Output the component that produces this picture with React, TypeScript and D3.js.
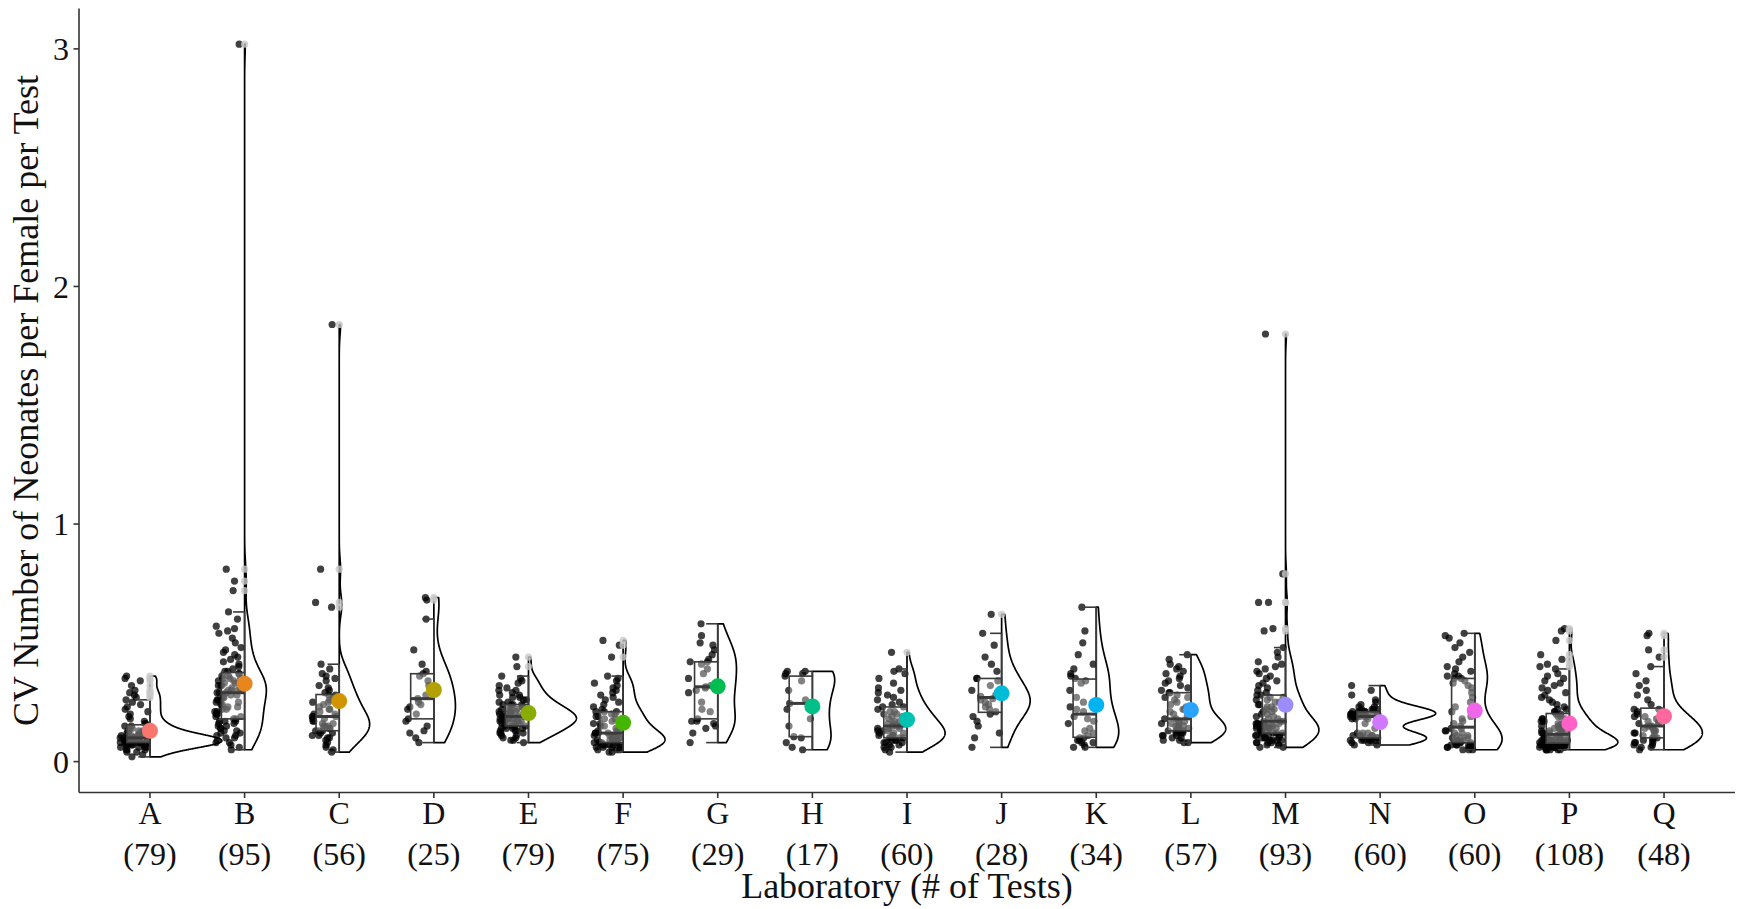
import React from "react";
import * as d3 from "d3";

// Laboratory identifiers and number of tests per laboratory
const labs = ["A", "B", "C", "D", "E", "F", "G", "H", "I", "J", "K", "L", "M", "N", "O", "P", "Q"];
const testCounts = [79, 95, 56, 25, 79, 75, 29, 17, 60, 28, 34, 57, 93, 60, 60, 108, 48];
const yTicks = [0, 1, 2, 3];

// CV of number of neonates per female, one value per test
const labA = [
  0.02, 0.03, 0.04, 0.04, 0.05, 0.05, 0.05, 0.06, 0.06, 0.06,
  0.06, 0.07, 0.07, 0.07, 0.07, 0.07, 0.07, 0.08, 0.08, 0.08,
  0.08, 0.08, 0.08, 0.08, 0.08, 0.08, 0.09, 0.09, 0.09, 0.09,
  0.09, 0.09, 0.09, 0.09, 0.09, 0.09, 0.10, 0.10, 0.10, 0.10,
  0.10, 0.10, 0.10, 0.10, 0.11, 0.11, 0.11, 0.11, 0.12, 0.12,
  0.12, 0.12, 0.13, 0.13, 0.13, 0.14, 0.14, 0.15, 0.15, 0.16,
  0.16, 0.17, 0.18, 0.19, 0.20, 0.21, 0.22, 0.23, 0.24, 0.25,
  0.26, 0.27, 0.28, 0.29, 0.30, 0.32, 0.34, 0.35, 0.36,
];
const labB = [
  0.05, 0.06, 0.07, 0.08, 0.08, 0.09, 0.10, 0.10, 0.11, 0.11,
  0.12, 0.12, 0.13, 0.13, 0.14, 0.14, 0.15, 0.15, 0.16, 0.16,
  0.17, 0.17, 0.17, 0.18, 0.18, 0.19, 0.19, 0.20, 0.20, 0.21,
  0.21, 0.22, 0.22, 0.23, 0.23, 0.24, 0.24, 0.25, 0.25, 0.26,
  0.26, 0.26, 0.27, 0.27, 0.28, 0.28, 0.29, 0.29, 0.29, 0.30,
  0.30, 0.30, 0.31, 0.31, 0.31, 0.32, 0.32, 0.32, 0.33, 0.33,
  0.33, 0.34, 0.34, 0.34, 0.35, 0.35, 0.35, 0.36, 0.36, 0.37,
  0.37, 0.38, 0.38, 0.39, 0.40, 0.41, 0.42, 0.43, 0.44, 0.45,
  0.46, 0.47, 0.48, 0.50, 0.52, 0.54, 0.55, 0.56, 0.57, 0.60,
  0.63, 0.72, 0.76, 0.81, 3.02,
];
const labC = [
  0.04, 0.05, 0.06, 0.07, 0.08, 0.09, 0.10, 0.10, 0.11, 0.11,
  0.12, 0.12, 0.13, 0.13, 0.13, 0.14, 0.14, 0.15, 0.15, 0.15,
  0.16, 0.16, 0.17, 0.17, 0.18, 0.18, 0.19, 0.19, 0.19, 0.20,
  0.20, 0.21, 0.22, 0.22, 0.23, 0.24, 0.25, 0.25, 0.26, 0.27,
  0.28, 0.28, 0.29, 0.30, 0.31, 0.32, 0.34, 0.35, 0.36, 0.37,
  0.39, 0.41, 0.65, 0.67, 0.81, 1.84,
];
const labD = [
  0.08, 0.10, 0.12, 0.13, 0.15, 0.17, 0.18, 0.20, 0.22, 0.23,
  0.24, 0.25, 0.265, 0.28, 0.30, 0.32, 0.34, 0.36, 0.37, 0.38,
  0.41, 0.47, 0.60, 0.68, 0.69,
];
const labE = [
  0.08, 0.09, 0.09, 0.10, 0.10, 0.11, 0.11, 0.12, 0.12, 0.12,
  0.13, 0.13, 0.13, 0.14, 0.14, 0.14, 0.14, 0.15, 0.15, 0.15,
  0.15, 0.16, 0.16, 0.16, 0.16, 0.17, 0.17, 0.17, 0.17, 0.17,
  0.18, 0.18, 0.18, 0.18, 0.18, 0.19, 0.19, 0.19, 0.19, 0.19,
  0.19, 0.20, 0.20, 0.20, 0.20, 0.21, 0.21, 0.21, 0.21, 0.22,
  0.22, 0.22, 0.22, 0.23, 0.23, 0.23, 0.24, 0.24, 0.24, 0.24,
  0.25, 0.25, 0.26, 0.26, 0.27, 0.27, 0.28, 0.28, 0.29, 0.30,
  0.30, 0.31, 0.32, 0.33, 0.34, 0.35, 0.36, 0.40, 0.44,
];
const labF = [
  0.04, 0.04, 0.05, 0.05, 0.05, 0.06, 0.06, 0.06, 0.06, 0.07,
  0.07, 0.07, 0.07, 0.07, 0.08, 0.08, 0.08, 0.08, 0.08, 0.08,
  0.09, 0.09, 0.09, 0.09, 0.09, 0.10, 0.10, 0.10, 0.10, 0.11,
  0.11, 0.11, 0.11, 0.11, 0.12, 0.12, 0.12, 0.12, 0.13, 0.13,
  0.14, 0.14, 0.15, 0.15, 0.16, 0.16, 0.17, 0.17, 0.18, 0.18,
  0.19, 0.19, 0.20, 0.20, 0.21, 0.21, 0.21, 0.22, 0.23, 0.24,
  0.25, 0.26, 0.27, 0.28, 0.29, 0.30, 0.31, 0.32, 0.33, 0.34,
  0.35, 0.36, 0.44, 0.49, 0.51,
];
const labG = [
  0.08, 0.12, 0.14, 0.15, 0.16, 0.17, 0.17, 0.18, 0.21, 0.22,
  0.25, 0.29, 0.30, 0.31, 0.315, 0.32, 0.35, 0.37, 0.39, 0.41,
  0.42, 0.42, 0.43, 0.45, 0.47, 0.49, 0.50, 0.53, 0.58,
];
const labH = [
  0.05, 0.06, 0.08, 0.10, 0.105, 0.15, 0.18, 0.22, 0.245, 0.26,
  0.30, 0.34, 0.36, 0.37, 0.37, 0.38, 0.38,
];
const labI = [
  0.04, 0.05, 0.06, 0.06, 0.07, 0.07, 0.08, 0.08, 0.08, 0.09,
  0.09, 0.09, 0.10, 0.10, 0.10, 0.10, 0.11, 0.11, 0.11, 0.12,
  0.12, 0.12, 0.13, 0.13, 0.13, 0.14, 0.14, 0.14, 0.15, 0.15,
  0.15, 0.16, 0.16, 0.17, 0.17, 0.18, 0.18, 0.19, 0.19, 0.20,
  0.20, 0.21, 0.21, 0.22, 0.23, 0.23, 0.24, 0.25, 0.26, 0.27,
  0.28, 0.29, 0.30, 0.31, 0.33, 0.35, 0.37, 0.38, 0.39, 0.46,
];
const labJ = [
  0.06, 0.10, 0.12, 0.15, 0.17, 0.19, 0.20, 0.21, 0.22, 0.23,
  0.24, 0.25, 0.26, 0.265, 0.275, 0.28, 0.29, 0.30, 0.32, 0.34,
  0.35, 0.35, 0.38, 0.41, 0.44, 0.49, 0.54, 0.62,
];
const labK = [
  0.06, 0.06, 0.07, 0.08, 0.08, 0.09, 0.09, 0.10, 0.10, 0.11,
  0.12, 0.13, 0.14, 0.16, 0.17, 0.18, 0.19, 0.21, 0.22, 0.23,
  0.25, 0.27, 0.30, 0.33, 0.34, 0.35, 0.36, 0.37, 0.39, 0.41,
  0.45, 0.50, 0.55, 0.65,
];
const labL = [
  0.08, 0.08, 0.09, 0.09, 0.10, 0.10, 0.11, 0.11, 0.11, 0.12,
  0.12, 0.12, 0.13, 0.13, 0.13, 0.13, 0.14, 0.14, 0.14, 0.15,
  0.15, 0.15, 0.16, 0.16, 0.16, 0.17, 0.17, 0.18, 0.18, 0.19,
  0.20, 0.21, 0.22, 0.22, 0.23, 0.24, 0.25, 0.26, 0.27, 0.27,
  0.28, 0.29, 0.29, 0.30, 0.31, 0.32, 0.33, 0.34, 0.35, 0.36,
  0.37, 0.38, 0.39, 0.40, 0.41, 0.43, 0.45,
];
const labM = [
  0.06, 0.06, 0.07, 0.07, 0.07, 0.08, 0.08, 0.08, 0.08, 0.09,
  0.09, 0.09, 0.09, 0.10, 0.10, 0.10, 0.10, 0.11, 0.11, 0.11,
  0.11, 0.12, 0.12, 0.12, 0.12, 0.13, 0.13, 0.13, 0.13, 0.14,
  0.14, 0.14, 0.14, 0.14, 0.15, 0.15, 0.15, 0.15, 0.15, 0.16,
  0.16, 0.16, 0.16, 0.16, 0.16, 0.17, 0.17, 0.17, 0.18, 0.18,
  0.19, 0.19, 0.20, 0.20, 0.21, 0.21, 0.22, 0.22, 0.23, 0.23,
  0.24, 0.24, 0.25, 0.25, 0.26, 0.26, 0.27, 0.27, 0.28, 0.28,
  0.29, 0.30, 0.31, 0.32, 0.33, 0.34, 0.35, 0.36, 0.37, 0.38,
  0.39, 0.40, 0.41, 0.42, 0.44, 0.46, 0.48, 0.55, 0.56, 0.67,
  0.67, 0.79, 1.80,
];
const labN = [
  0.07, 0.07, 0.08, 0.08, 0.08, 0.09, 0.09, 0.09, 0.09, 0.09,
  0.10, 0.10, 0.10, 0.10, 0.10, 0.10, 0.11, 0.11, 0.11, 0.11,
  0.11, 0.12, 0.12, 0.12, 0.14, 0.16, 0.18, 0.18, 0.18, 0.19,
  0.19, 0.19, 0.19, 0.19, 0.19, 0.20, 0.20, 0.20, 0.20, 0.20,
  0.20, 0.20, 0.21, 0.21, 0.21, 0.21, 0.21, 0.21, 0.22, 0.22,
  0.22, 0.22, 0.23, 0.23, 0.24, 0.25, 0.26, 0.28, 0.30, 0.32,
];
const labO = [
  0.05, 0.05, 0.05, 0.06, 0.06, 0.06, 0.06, 0.07, 0.07, 0.07,
  0.07, 0.07, 0.08, 0.08, 0.08, 0.08, 0.09, 0.09, 0.09, 0.10,
  0.10, 0.10, 0.11, 0.11, 0.12, 0.12, 0.13, 0.13, 0.14, 0.14,
  0.15, 0.16, 0.17, 0.18, 0.19, 0.21, 0.23, 0.25, 0.27, 0.29,
  0.31, 0.32, 0.33, 0.34, 0.35, 0.35, 0.36, 0.36, 0.37, 0.38,
  0.39, 0.40, 0.42, 0.44, 0.46, 0.48, 0.50, 0.52, 0.53, 0.54,
];
const labP = [
  0.05, 0.05, 0.05, 0.05, 0.05, 0.05, 0.06, 0.06, 0.06, 0.06,
  0.06, 0.06, 0.06, 0.06, 0.06, 0.06, 0.07, 0.07, 0.07, 0.07,
  0.07, 0.07, 0.07, 0.07, 0.07, 0.07, 0.07, 0.08, 0.08, 0.08,
  0.08, 0.08, 0.08, 0.08, 0.08, 0.08, 0.08, 0.09, 0.09, 0.09,
  0.09, 0.09, 0.09, 0.09, 0.09, 0.10, 0.10, 0.10, 0.10, 0.10,
  0.11, 0.11, 0.11, 0.11, 0.12, 0.12, 0.12, 0.12, 0.13, 0.13,
  0.13, 0.13, 0.14, 0.14, 0.14, 0.15, 0.15, 0.15, 0.16, 0.16,
  0.16, 0.17, 0.17, 0.17, 0.18, 0.18, 0.18, 0.19, 0.19, 0.20,
  0.20, 0.21, 0.21, 0.22, 0.22, 0.23, 0.24, 0.25, 0.26, 0.27,
  0.28, 0.29, 0.30, 0.31, 0.32, 0.33, 0.34, 0.35, 0.36, 0.37,
  0.39, 0.40, 0.41, 0.43, 0.45, 0.51, 0.55, 0.56,
];
const labQ = [
  0.05, 0.06, 0.06, 0.07, 0.07, 0.08, 0.08, 0.08, 0.09, 0.09,
  0.10, 0.10, 0.10, 0.11, 0.11, 0.12, 0.12, 0.13, 0.13, 0.13,
  0.14, 0.14, 0.15, 0.15, 0.15, 0.16, 0.16, 0.17, 0.17, 0.18,
  0.19, 0.19, 0.20, 0.21, 0.22, 0.22, 0.24, 0.26, 0.28, 0.30,
  0.32, 0.34, 0.37, 0.40, 0.44, 0.47, 0.53, 0.54,
];

const labValues = [labA, labB, labC, labD, labE, labF, labG, labH, labI, labJ, labK, labL, labM, labN, labO, labP, labQ];

const WIDTH = 1737;
const HEIGHT = 909;
const FONT = "'Liberation Serif', 'Times New Roman', serif";

// polar CIE-Luv colour (the default discrete hue palette)
function hclLuv(h: number, c: number, l: number): string {
  const hr = (h * Math.PI) / 180;
  const u = c * Math.cos(hr);
  const v = c * Math.sin(hr);
  const Y = l > 8 ? Math.pow((l + 16) / 116, 3) : l / 903.3;
  const un = 0.19784, vn = 0.46834;
  const up = u / (13 * l) + un;
  const vp = v / (13 * l) + vn;
  const X = (Y * 9 * up) / (4 * vp);
  const Z = (Y * (12 - 3 * up - 20 * vp)) / (4 * vp);
  const lin = [
    3.2404542 * X - 1.5371385 * Y - 0.4985314 * Z,
    -0.969266 * X + 1.8760108 * Y + 0.041556 * Z,
    0.0556434 * X - 0.2040259 * Y + 1.0572252 * Z,
  ];
  const ch = lin.map((x) => {
    const g = x <= 0.0031308 ? 12.92 * x : 1.055 * Math.pow(x, 1 / 2.4) - 0.055;
    return Math.round(Math.max(0, Math.min(1, g)) * 255);
  });
  return d3.rgb(ch[0], ch[1], ch[2]).formatHex();
}

// Silverman's rule-of-thumb bandwidth
function bwNrd0(v: number[]): number {
  const s = [...v].sort(d3.ascending);
  const sd = d3.deviation(s) ?? 0;
  const iqr = (d3.quantileSorted(s, 0.75) ?? 0) - (d3.quantileSorted(s, 0.25) ?? 0);
  let lo = Math.min(sd, iqr / 1.34);
  if (!(lo > 0)) lo = sd || Math.abs(s[0]) || 1;
  return 0.9 * lo * Math.pow(s.length, -0.2);
}

// Gaussian kernel density evaluated on a grid
function kde(v: number[], bw: number, grid: number[]): number[] {
  const k = 1 / (v.length * bw * Math.sqrt(2 * Math.PI));
  return grid.map((g) => {
    let s = 0;
    for (const x of v) {
      const z = (g - x) / bw;
      s += Math.exp(-0.5 * z * z);
    }
    return s * k;
  });
}

export default function App() {
  const left = 79;
  const right = 1735;
  const top = 8.5;
  const bottom = 792.5;

  const x = d3.scalePoint<string>().domain(labs).range([left, right]).padding(0.75);
  const step = x.step();

  const all = labValues.flat();
  const [mn, mx] = d3.extent(all) as [number, number];
  const pad = (mx - mn) * 0.05;
  const y = d3.scaleLinear().domain([mn - pad, mx + pad]).range([bottom, top]);

  const boxHalf = step * 0.245;
  const violinMax = step * 0.76;

  const hues = d3.range(labs.length).map((i) => 15 + (360 / labs.length) * i);
  const colors = hues.map((h) => hclLuv(h, 100, 65));

  const rng = d3.randomLcg(0.4217);

  const groups = labs.map((lab, i) => {
    const vals = labValues[i];
    const sorted = [...vals].sort(d3.ascending);
    const q1 = d3.quantileSorted(sorted, 0.25) as number;
    const med = d3.quantileSorted(sorted, 0.5) as number;
    const q3 = d3.quantileSorted(sorted, 0.75) as number;
    const iqr = q3 - q1;
    const loF = q1 - 1.5 * iqr;
    const hiF = q3 + 1.5 * iqr;
    const inside = sorted.filter((v) => v >= loF && v <= hiF);
    const wLo = inside[0];
    const wHi = inside[inside.length - 1];
    const outliers = sorted.filter((v) => v < loF || v > hiF);
    const bw = bwNrd0(sorted);
    const lo = sorted[0];
    const hi = sorted[sorted.length - 1];
    const grid = d3.range(512).map((k) => lo + ((hi - lo) * k) / 511);
    const dens = kde(sorted, bw, grid);
    const jitter = vals.map(() => rng());
    return {
      lab, vals, q1, med, q3, wLo, wHi, outliers, grid, dens, jitter,
      mean: d3.mean(vals) as number,
      cx: x(lab) as number,
      color: colors[i],
    };
  });

  const maxDens = d3.max(groups, (g) => d3.max(g.dens) as number) as number;

  const violinPath = (g: (typeof groups)[number]) => {
    const pts: [number, number][] = [[g.cx, y(g.grid[0])]];
    g.grid.forEach((v, k) => pts.push([g.cx + (g.dens[k] / maxDens) * violinMax, y(v)]));
    pts.push([g.cx, y(g.grid[g.grid.length - 1])]);
    return (d3.line() as any)(pts) + "Z";
  };

  const axisColor = "#333333";
  const textColor = "#111111";

  return (
    <svg
      width={WIDTH}
      height={HEIGHT}
      style={{ position: "absolute", left: 0, top: 0, background: "#ffffff" }}
      fontFamily={FONT}
    >
      {/* half violins */}
      {groups.map((g) => (
        <path key={`v-${g.lab}`} d={violinPath(g)} fill="#ffffff" stroke="#000000" strokeWidth={1.7} strokeLinejoin="round" />
      ))}

      {/* jittered observations */}
      {groups.map((g) =>
        g.vals.map((v, k) => (
          <circle
            key={`p-${g.lab}-${k}`}
            cx={g.cx - 16 + (g.jitter[k] - 0.5) * 28}
            cy={y(v)}
            r={3.6}
            fill="#000000"
            fillOpacity={0.75}
          />
        ))
      )}

      {/* boxplots */}
      {groups.map((g) => (
        <g key={`b-${g.lab}`} stroke="#3a3a3a" strokeWidth={1.6}>
          <line x1={g.cx} x2={g.cx} y1={y(g.q3)} y2={y(g.wHi)} />
          <line x1={g.cx} x2={g.cx} y1={y(g.q1)} y2={y(g.wLo)} />
          <line x1={g.cx - boxHalf / 2} x2={g.cx} y1={y(g.wHi)} y2={y(g.wHi)} />
          <line x1={g.cx - boxHalf / 2} x2={g.cx} y1={y(g.wLo)} y2={y(g.wLo)} />
          <rect
            x={g.cx - boxHalf}
            y={y(g.q3)}
            width={boxHalf}
            height={y(g.q1) - y(g.q3)}
            fill="#ffffff"
            fillOpacity={0.35}
          />
          <line x1={g.cx - boxHalf} x2={g.cx} y1={y(g.med)} y2={y(g.med)} strokeWidth={3} />
        </g>
      ))}

      {/* outlying values */}
      {groups.map((g) =>
        g.outliers.map((v, k) => (
          <circle key={`o-${g.lab}-${k}`} cx={g.cx} cy={y(v)} r={3.6} fill="#c8c8c8" fillOpacity={0.8} />
        ))
      )}

      {/* group means */}
      {groups.map((g) => (
        <circle key={`m-${g.lab}`} cx={g.cx} cy={y(g.mean)} r={8} fill={g.color} />
      ))}

      {/* axes */}
      <line x1={left} x2={left} y1={top} y2={bottom} stroke={axisColor} strokeWidth={1.6} />
      <line x1={left} x2={right} y1={bottom} y2={bottom} stroke={axisColor} strokeWidth={1.6} />
      {yTicks.map((t) => (
        <g key={`yt-${t}`}>
          <line x1={left - 5.5} x2={left} y1={y(t)} y2={y(t)} stroke={axisColor} strokeWidth={1.6} />
          <text x={left - 10} y={y(t)} dy="0.35em" textAnchor="end" fontSize={32} fill={textColor}>
            {t}
          </text>
        </g>
      ))}
      {labs.map((lab, i) => (
        <g key={`xt-${lab}`}>
          <line x1={x(lab)} x2={x(lab)} y1={bottom} y2={bottom + 5.5} stroke={axisColor} strokeWidth={1.6} />
          <text x={x(lab)} y={824} textAnchor="middle" fontSize={32} fill={textColor}>
            {lab}
          </text>
          <text x={x(lab)} y={865} textAnchor="middle" fontSize={32} fill={textColor}>
            {`(${testCounts[i]})`}
          </text>
        </g>
      ))}
      <text x={(left + right) / 2} y={898} textAnchor="middle" fontSize={36} fill={textColor}>
        Laboratory (# of Tests)
      </text>
      <text
        transform={`translate(38, ${(top + bottom) / 2}) rotate(-90)`}
        textAnchor="middle"
        fontSize={36}
        fill={textColor}
      >
        CV Number of Neonates per Female per Test
      </text>
    </svg>
  );
}
